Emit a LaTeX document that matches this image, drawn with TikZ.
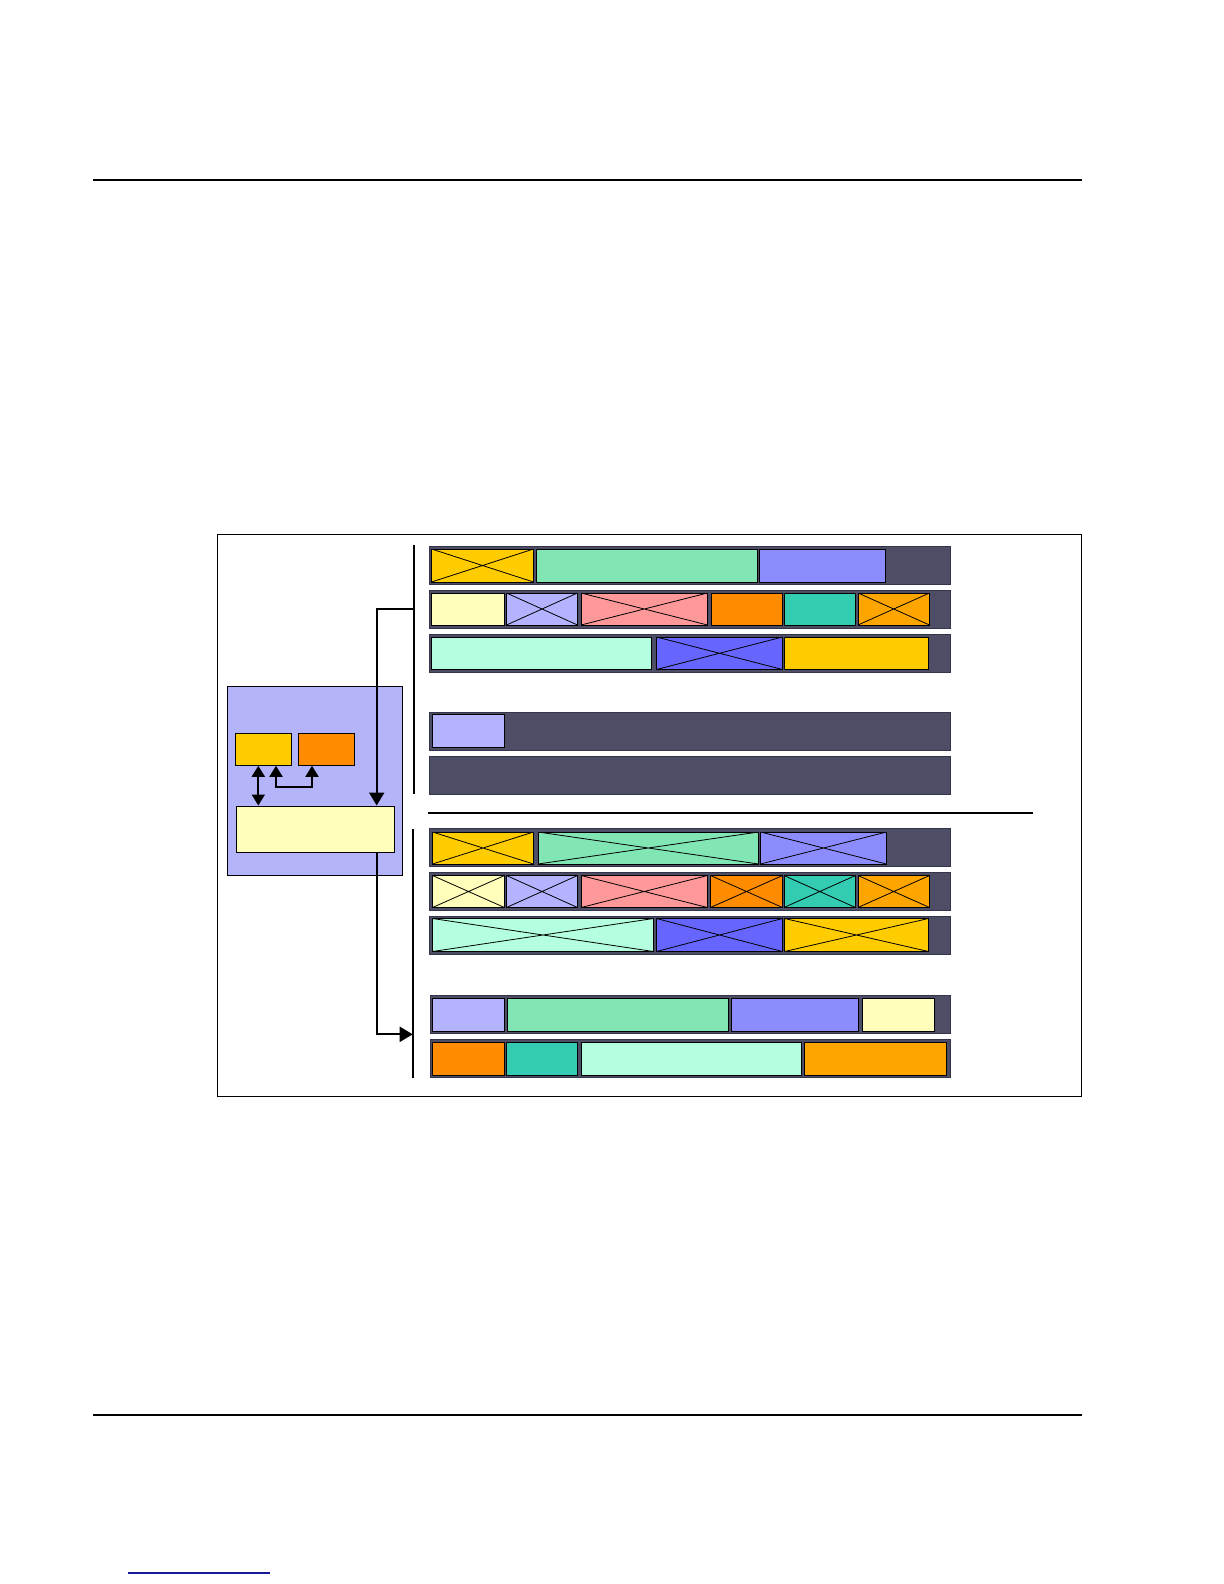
\documentclass[tikz,border=0pt]{standalone}
\usepackage{xcolor}
\usepackage{tikz}
\usetikzlibrary{positioning,arrows.meta,calc}

\definecolor{gold}{HTML}{FFCC00}
\definecolor{seagreen}{HTML}{82E6B4}
\definecolor{violet}{HTML}{8C8CFF}
\definecolor{paleyellow}{HTML}{FFFFBB}
\definecolor{lavender}{HTML}{B3B3FF}
\definecolor{pink}{HTML}{FF9999}
\definecolor{orange}{HTML}{FF8C00}
\definecolor{teal}{HTML}{33CCB3}
\definecolor{amber}{HTML}{FFA500}
\definecolor{mint}{HTML}{B3FFE0}
\definecolor{blue}{HTML}{6666FF}
\definecolor{rowbg}{HTML}{4D4D66}
\definecolor{rowedge}{HTML}{34344A}
\definecolor{ctrlbg}{HTML}{B4B4FA}
\definecolor{linkblue}{HTML}{1A1A99}

\tikzset{
  rowbox/.style={fill=rowbg,draw=rowedge,line width=0.5pt},
  cellbox/.style={draw=black,line width=0.4pt},
  xcellbox/.style={cellbox,path picture={
      \draw[line width=0.4pt] (path picture bounding box.north west) -- (path picture bounding box.south east)
        (path picture bounding box.south west) -- (path picture bounding box.north east);}},
  regbox/.style={draw=black,line width=0.5pt,inner sep=0pt},
  bus/.style={line width=1pt},
  link/.style={line width=1pt,-{Triangle[width=7.5pt,length=6.5pt]}},
  link2/.style={line width=1pt,{Triangle[width=6.5pt,length=5.5pt]}-{Triangle[width=6.5pt,length=5.5pt]}}
}

\begin{document}
\begin{tikzpicture}[x=0.5pt,y=-0.5pt]
  \useasboundingbox (0,0) rectangle (1224,1584);
  % page rules
  \draw[line width=0.8pt] (93,180) -- (1082,180);
  \draw[line width=0.8pt] (93,1415) -- (1082,1415);
  \draw[linkblue,line width=0.7pt] (128,1573) -- (270,1573);
  % frame
  \draw[line width=0.5pt] (217.3,534.3) rectangle (1081,1096);

  % controller
  \node[regbox,fill=ctrlbg,minimum width=87.7pt,minimum height=94.3pt] (ctrl) at (315,781) {};
  \node[regbox,fill=gold,minimum width=28.2pt,minimum height=16pt] (reg1) at (263.5,749.3) {};
  \node[regbox,fill=orange,minimum width=28pt,minimum height=16pt] (reg2) at (326.3,749.3) {};
  \node[regbox,fill=paleyellow,minimum width=79.2pt,minimum height=23.2pt] (engine) at (315.5,829.2) {};

  % buses
  \coordinate (topbusA) at (413.7,545);
  \coordinate (topbusB) at (413.7,794.3);
  \coordinate (botbusA) at (412.7,829.3);
  \coordinate (botbusB) at (412.7,1078.3);
  \coordinate (toptap) at (413.7,609);
  \coordinate (bottap) at (412.7,1034.3);
  \draw[bus] (topbusA) -- (topbusB);
  \draw[bus] (botbusA) -- (botbusB);
  \draw[bus] (428,812.5) -- (1033,812.5);

  % connectors
  \draw[link2] ([xshift=-2.6pt]reg1.south) -- ([xshift=-2.6pt]reg1.south |- engine.north);
  \draw[link2] ([xshift=6.25pt]reg1.south) -- ++(0,-10.7pt) -| ([xshift=-7.15pt]reg2.south);
  \draw[link] (toptap) -| ([xshift=30.6pt]engine.north);
  \draw[link] ([xshift=30.6pt]engine.south) |- (bottap);

  % upper rows
  \draw[rowbox] (429,546.5) rectangle (950,584.5);
  \draw[rowbox] (429,590.5) rectangle (950,628.5);
  \draw[rowbox] (429,634) rectangle (950,672.5);
  \draw[rowbox] (429,712.5) rectangle (950,750.5);
  \draw[rowbox] (429,756.5) rectangle (950,794.5);

  \draw[xcellbox,fill=gold] (431.5,549) rectangle (533.5,582);
  \draw[cellbox,fill=seagreen] (536.5,549) rectangle (757.5,582);
  \draw[cellbox,fill=violet] (759.5,549) rectangle (885.5,582);

  \draw[cellbox,fill=paleyellow] (431.5,593) rectangle (504.5,625);
  \draw[xcellbox,fill=lavender] (506.5,593) rectangle (577.5,625);
  \draw[xcellbox,fill=pink] (581,593) rectangle (707.5,625);
  \draw[cellbox,fill=orange] (711,593) rectangle (782.5,625);
  \draw[cellbox,fill=teal] (784,593) rectangle (855.5,625);
  \draw[xcellbox,fill=amber] (858,593) rectangle (929.5,625);

  \draw[cellbox,fill=mint] (431,637) rectangle (651.5,669.5);
  \draw[xcellbox,fill=blue] (656.5,637) rectangle (782.5,669.5);
  \draw[cellbox,fill=gold] (784.5,637) rectangle (928.5,669.5);

  \draw[cellbox,fill=lavender] (432.5,714.5) rectangle (504.5,747.5);

  % lower rows
  \draw[rowbox] (429,828.5) rectangle (950,866.5);
  \draw[rowbox] (429,872.5) rectangle (950,910.5);
  \draw[rowbox] (429,916.5) rectangle (950,954.5);
  \draw[rowbox] (430,995) rectangle (950,1033.5);
  \draw[rowbox] (430,1039.5) rectangle (950,1077.5);

  \draw[xcellbox,fill=gold] (432.5,832) rectangle (533.5,864);
  \draw[xcellbox,fill=seagreen] (538,832) rectangle (758.5,864);
  \draw[xcellbox,fill=violet] (760.5,832) rectangle (886.5,864);

  \draw[xcellbox,fill=paleyellow] (432.5,875.5) rectangle (504.5,907.5);
  \draw[xcellbox,fill=lavender] (506.5,875.5) rectangle (577.5,907.5);
  \draw[xcellbox,fill=pink] (581,875.5) rectangle (707.5,907.5);
  \draw[xcellbox,fill=orange] (710.5,875.5) rectangle (782.5,907.5);
  \draw[xcellbox,fill=teal] (784,875.5) rectangle (855.5,907.5);
  \draw[xcellbox,fill=amber] (858,875.5) rectangle (929.5,907.5);

  \draw[xcellbox,fill=mint] (432.5,918.5) rectangle (653.5,951.5);
  \draw[xcellbox,fill=blue] (656.5,918.5) rectangle (782.5,951.5);
  \draw[xcellbox,fill=gold] (784.5,918.5) rectangle (928.5,951.5);

  \draw[cellbox,fill=lavender] (432.5,998) rectangle (504.5,1031);
  \draw[cellbox,fill=seagreen] (507.5,998) rectangle (728.5,1031);
  \draw[cellbox,fill=violet] (731.5,998) rectangle (858.5,1031);
  \draw[cellbox,fill=paleyellow] (862.5,998) rectangle (934.5,1031);

  \draw[cellbox,fill=orange] (432.5,1042.5) rectangle (504.5,1075.5);
  \draw[cellbox,fill=teal] (506.5,1042.5) rectangle (577.5,1075.5);
  \draw[cellbox,fill=mint] (581,1042.5) rectangle (801.5,1075.5);
  \draw[cellbox,fill=amber] (804.5,1042.5) rectangle (946.5,1075.5);
\end{tikzpicture}
\end{document}
